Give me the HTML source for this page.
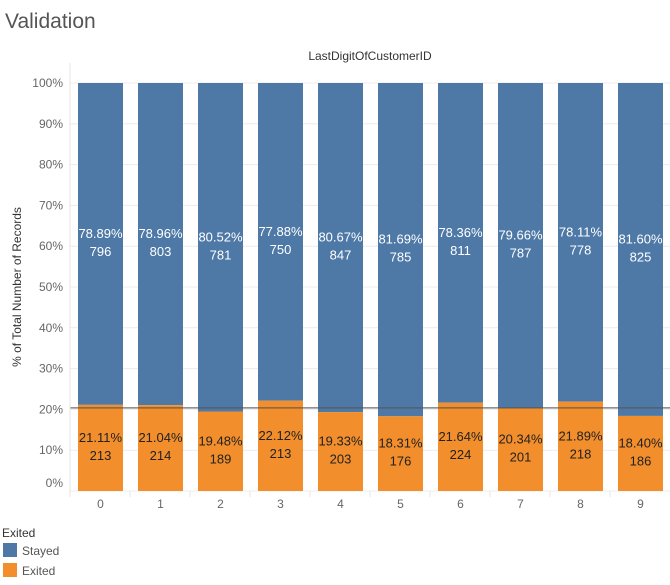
<!DOCTYPE html>
<html><head><meta charset="utf-8"><style>
body{margin:0;background:#fff;font-family:"Liberation Sans",sans-serif;}
svg text{font-family:"Liberation Sans",sans-serif;}
</style></head><body>
<svg width="670" height="580">
<text x="5" y="28" font-size="21" fill="#555">Validation</text>
<text x="370" y="60" font-size="12" fill="#333" text-anchor="middle">LastDigitOfCustomerID</text>
<text transform="translate(21,287) rotate(-90)" font-size="12" fill="#333" text-anchor="middle">% of Total Number of Records</text>
<g id="grid"></g><g id="bars"></g><g id="axes"></g>
<text x="2" y="537" font-size="12" fill="#333">Exited</text>
<rect x="3" y="543" width="14" height="14" fill="#4e79a7"/>
<text x="22" y="555" font-size="12" fill="#555">Stayed</text>
<rect x="3" y="563" width="14" height="14" fill="#f28e2b"/>
<text x="22" y="575" font-size="12" fill="#555">Exited</text>
</svg>
<script>
const categories=["0","1","2","3","4","5","6","7","8","9"];
const stayedCounts=[796,803,781,750,847,785,811,787,778,825];
const exitedCounts=[213,214,189,213,203,176,224,201,218,186];
const yTicks=[0,10,20,30,40,50,60,70,80,90,100];
const NS="http://www.w3.org/2000/svg";
const y0=491,yTop=83,x0=70,step=60,bw=45;
const ys=v=>y0-(v/100)*(y0-yTop);
const xs=i=>x0+8+i*step;
function mk(t,a,p){const e=document.createElementNS(NS,t);for(const k in a)e.setAttribute(k,a[k]);p.appendChild(e);return e;}
const grid=document.getElementById('grid'),bars=document.getElementById('bars'),axes=document.getElementById('axes');
yTicks.forEach(v=>{
 const y=ys(v);
 const g=mk('line',{x1:x0,x2:670,y1:y,y2:y,stroke:'#ececec'},grid);
 
 
 const t=mk('text',{x:63,y:(v===0?y-4:y+4),'font-size':12,fill:'#666','text-anchor':'end'},axes);
 t.textContent=v+'%';
 
 
});
const ax=mk('line',{x1:x0,x2:x0,y1:63,y2:491,stroke:'#e6e6e6'},axes);


let totE=0,tot=0;
categories.forEach((c,i)=>{
 const s=stayedCounts[i],e=exitedCounts[i],n=s+e;totE+=e;tot+=n;
 const pe=e/n*100,ps=s/n*100,x=xs(i);
 const rb=mk('rect',{x:x,y:ys(100),width:bw,height:ys(pe)-ys(100),fill:'#4e79a7'},bars);
 
 
 const ro=mk('rect',{x:x,y:ys(pe),width:bw,height:y0-ys(pe),fill:'#f28e2b'},bars);
 
 
 const ms=(ys(100)+ys(pe))/2,me=(ys(pe)+y0)/2;
 [[ps.toFixed(2)+'%',ms-6,'#fff'],[String(s),ms+12,'#fff'],[pe.toFixed(2)+'%',me-6,'#222'],[String(e),me+12,'#222']].forEach((l,k)=>{
  const t=mk('text',{x:x+bw/2,y:l[1],'font-size':13,fill:l[2],'text-anchor':'middle'},bars);
  t.textContent=l[0];
  
  
 });
 const t=mk('text',{x:x+bw/2,y:508,'font-size':12,fill:'#666','text-anchor':'middle'},axes);
 t.textContent=c;
 
 
 const tk=mk('line',{x1:x0+i*step,x2:x0+i*step,y1:491,y2:497,stroke:'#e6e6e6'},axes);
 
 
});
const avg=totE/tot*100;
const rl=mk('line',{x1:x0,x2:670,y1:ys(avg),y2:ys(avg),stroke:'#555','stroke-width':1.3,'stroke-opacity':0.85},bars);


</script>
</body></html>
